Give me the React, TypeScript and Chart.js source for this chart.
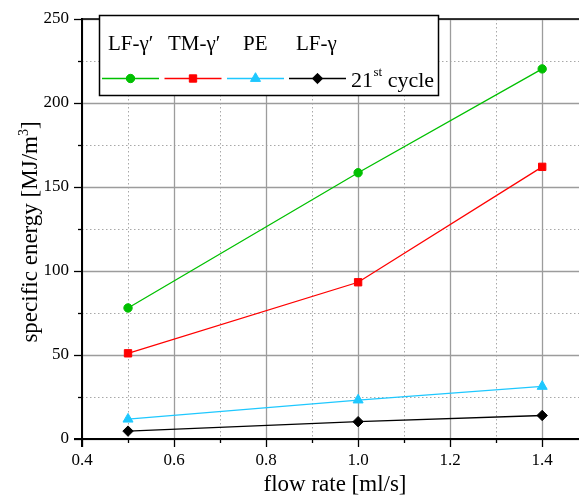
import { useEffect, useRef } from 'react';
import { Chart, registerables } from 'chart.js';

Chart.register(...registerables);

const flowRates = [0.5, 1.0, 1.4];
const lfGammaPrime = [78, 158.5, 220.3];
const tmGammaPrime = [51, 93.3, 162];
const pe = [11.8, 23.2, 31.3];
const lfGamma21 = [4.7, 10.3, 14];

const seriesNames = ['LF-γ′', 'TM-γ′', 'PE', 'LF-γ'];
const seriesColors = ['#00c000', '#ff0000', '#1ec8ff', '#000000'];
const seriesShapes = ['circle', 'rect', 'triangle', 'rectRot'];
const seriesRadii = [4.2, 5.2, 5.8, 5.2];
const legendSuffix = '21';
const legendSup = 'st';
const legendTail = ' cycle';
const xTitle = 'flow rate [ml/s]';
const yTitle = 'specific energy [MJ/m';
const yTitleSup = '3';
const yTitleEnd = ']';

const xMajor = [0.4, 0.6, 0.8, 1.0, 1.2, 1.4];
const xMinor = [0.5, 0.7, 0.9, 1.1, 1.3];
const yMajor = [0, 50, 100, 150, 200, 250];
const yMinor = [25, 75, 125, 175, 225];

const FONT = '"Liberation Serif", "DejaVu Serif", serif';

function drawMarker(ctx: CanvasRenderingContext2D, shape: string, r: number, x: number, y: number, color: string) {
  ctx.save();
  ctx.fillStyle = color;
  ctx.strokeStyle = color;
  ctx.lineWidth = 1;
  ctx.beginPath();
  if (shape === 'circle') {
    ctx.arc(x, y, r, 0, Math.PI * 2);
  } else if (shape === 'rect') {
    const s = r * Math.SQRT1_2;
    ctx.rect(x - s, y - s, 2 * s, 2 * s);
  } else if (shape === 'triangle') {
    ctx.moveTo(x, y - r);
    ctx.lineTo(x + Math.sin((2 * Math.PI) / 3) * r, y - Math.cos((2 * Math.PI) / 3) * r);
    ctx.lineTo(x + Math.sin((4 * Math.PI) / 3) * r, y - Math.cos((4 * Math.PI) / 3) * r);
    ctx.closePath();
  } else {
    ctx.moveTo(x, y - r);
    ctx.lineTo(x + r, y);
    ctx.lineTo(x, y + r);
    ctx.lineTo(x - r, y);
    ctx.closePath();
  }
  ctx.fill();
  ctx.stroke();
  ctx.restore();
}

const gridPlugin = {
  id: 'customGrid',
  beforeDatasetsDraw(chart: any) {
    const { ctx, chartArea: a, scales } = chart;
    const xs = scales.x, ys = scales.y;
    ctx.save();
    ctx.lineWidth = 1;
    ctx.strokeStyle = '#a8a8a8';
    ctx.setLineDash([1.5, 2.5]);
    xMinor.forEach((v) => {
      const px = Math.round(xs.getPixelForValue(v)) + 0.5;
      ctx.beginPath(); ctx.moveTo(px, a.top); ctx.lineTo(px, a.bottom); ctx.stroke();
    });
    yMinor.forEach((v) => {
      const py = Math.round(ys.getPixelForValue(v)) + 0.5;
      ctx.beginPath(); ctx.moveTo(a.left, py); ctx.lineTo(a.right, py); ctx.stroke();
    });
    ctx.setLineDash([]);
    ctx.lineWidth = 1.3;
    ctx.strokeStyle = '#9c9c9c';
    xMajor.forEach((v) => {
      const px = Math.round(xs.getPixelForValue(v)) + 0.5;
      ctx.beginPath(); ctx.moveTo(px, a.top); ctx.lineTo(px, a.bottom); ctx.stroke();
    });
    yMajor.forEach((v) => {
      const py = Math.round(ys.getPixelForValue(v)) + 0.5;
      ctx.beginPath(); ctx.moveTo(a.left, py); ctx.lineTo(a.right, py); ctx.stroke();
    });
    ctx.restore();
  },
  afterDatasetsDraw(chart: any) {
    const { ctx, chartArea: a, scales } = chart;
    const xs = scales.x, ys = scales.y;
    ctx.save();
    ctx.strokeStyle = '#000';
    ctx.lineWidth = 2;
    ctx.beginPath(); ctx.moveTo(a.left, a.top - 1); ctx.lineTo(a.left, a.bottom + 8); ctx.stroke();
    ctx.beginPath(); ctx.moveTo(a.left - 8, a.bottom); ctx.lineTo(a.right, a.bottom); ctx.stroke();
    ctx.lineWidth = 1.6;
    ctx.beginPath(); ctx.moveTo(a.left, a.top); ctx.lineTo(a.right, a.top); ctx.stroke();
    ctx.lineWidth = 1.3;
    xMajor.forEach((v) => {
      const px = Math.round(xs.getPixelForValue(v)) + 0.5;
      ctx.beginPath(); ctx.moveTo(px, a.bottom); ctx.lineTo(px, a.bottom + 8); ctx.stroke();
    });
    xMinor.forEach((v) => {
      const px = Math.round(xs.getPixelForValue(v)) + 0.5;
      ctx.beginPath(); ctx.moveTo(px, a.bottom); ctx.lineTo(px, a.bottom + 4); ctx.stroke();
    });
    yMajor.forEach((v) => {
      const py = Math.round(ys.getPixelForValue(v)) + 0.5;
      ctx.beginPath(); ctx.moveTo(a.left, py); ctx.lineTo(a.left - 8, py); ctx.stroke();
    });
    yMinor.forEach((v) => {
      const py = Math.round(ys.getPixelForValue(v)) + 0.5;
      ctx.beginPath(); ctx.moveTo(a.left, py); ctx.lineTo(a.left - 4, py); ctx.stroke();
    });

    // legend box
    const bx = 99.5, by = 15.5, bw = 339, bh = 80;
    ctx.fillStyle = '#fff';
    ctx.fillRect(bx, by, bw, bh);
    ctx.lineWidth = 1.5;
    ctx.strokeStyle = '#000';
    ctx.strokeRect(bx, by, bw, bh);

    ctx.fillStyle = '#000';
    ctx.textBaseline = 'alphabetic';
    ctx.textAlign = 'left';
    ctx.font = `21px ${FONT}`;
    const textX = [108, 168, 243, 296];
    seriesNames.forEach((n, i) => ctx.fillText(n, textX[i], 50));

    const lineStarts = [102, 164.5, 227, 289];
    const lineW = 57;
    const ly = 78.5;
    seriesNames.forEach((_, i) => {
      ctx.strokeStyle = seriesColors[i];
      ctx.lineWidth = 1.3;
      ctx.beginPath();
      ctx.moveTo(lineStarts[i], ly);
      ctx.lineTo(lineStarts[i] + lineW, ly);
      ctx.stroke();
    });
    ctx.restore();
    seriesNames.forEach((_, i) => {
      drawMarker(ctx, seriesShapes[i], seriesRadii[i], lineStarts[i] + lineW / 2, ly, seriesColors[i]);
    });
    ctx.save();
    ctx.fillStyle = '#000';
    ctx.textAlign = 'left';
    ctx.textBaseline = 'alphabetic';
    ctx.font = `22px ${FONT}`;
    ctx.fillText(legendSuffix, 351, 87);
    const w1 = ctx.measureText(legendSuffix).width;
    ctx.font = `13px ${FONT}`;
    ctx.fillText(legendSup, 351 + w1 + 0.5, 76);
    const w2 = ctx.measureText(legendSup).width;
    ctx.font = `22px ${FONT}`;
    ctx.fillText(legendTail, 351 + w1 + w2 + 0.5, 87);
    ctx.restore();
  },
  afterDraw(chart: any) {
    const { ctx } = chart;
    ctx.save();
    ctx.fillStyle = '#000';
    ctx.textBaseline = 'alphabetic';
    // x title
    ctx.font = `23px ${FONT}`;
    ctx.textAlign = 'center';
    ctx.fillText(xTitle, 335, 491);
    // y title (rotated) with superscript
    ctx.translate(37, 232);
    ctx.rotate(-Math.PI / 2);
    ctx.font = `23px ${FONT}`;
    const wMain = ctx.measureText(yTitle).width;
    const wEnd = ctx.measureText(yTitleEnd).width;
    ctx.font = `14px ${FONT}`;
    const wSup = ctx.measureText(yTitleSup).width;
    const total = wMain + wSup + wEnd;
    let x0 = -total / 2;
    ctx.textAlign = 'left';
    ctx.font = `23px ${FONT}`;
    ctx.fillText(yTitle, x0, 0);
    x0 += wMain;
    ctx.font = `14px ${FONT}`;
    ctx.fillText(yTitleSup, x0, -9);
    x0 += wSup;
    ctx.font = `23px ${FONT}`;
    ctx.fillText(yTitleEnd, x0, 0);
    ctx.restore();
  },
};

export default function App() {
  const ref = useRef<HTMLCanvasElement | null>(null);
  useEffect(() => {
    document.body.style.margin = '0';
    const mk = (vals: number[]) => flowRates.map((x, i) => ({ x, y: vals[i] }));
    const all = [lfGammaPrime, tmGammaPrime, pe, lfGamma21];
    const chart = new Chart(ref.current as HTMLCanvasElement, {
      type: 'line',
      data: {
        datasets: all.map((vals, i) => ({
          label: seriesNames[i],
          data: mk(vals),
          borderColor: seriesColors[i],
          backgroundColor: seriesColors[i],
          borderWidth: 1.3,
          pointStyle: seriesShapes[i] as any,
          pointRadius: seriesRadii[i],
          pointBorderWidth: 1,
          tension: 0,
          fill: false,
        })),
      },
      options: {
        animation: false,
        responsive: false,
        maintainAspectRatio: false,
        layout: { autoPadding: false, padding: { top: 19, right: 0, left: 0, bottom: 0 } },
        plugins: { legend: { display: false }, tooltip: { enabled: false } },
        scales: {
          x: {
            type: 'linear',
            min: 0.4,
            max: 1.48,
            grid: { display: false, drawTicks: false },
            border: { display: false },
            afterBuildTicks: (s: any) => { s.ticks = xMajor.map((v) => ({ value: v })); },
            afterFit: (s: any) => { s.height = 58; s.paddingLeft = 0; s.paddingRight = 0; },
            ticks: {
              padding: 11,
              color: '#000',
              font: { family: FONT, size: 17 },
              callback: (v: any) => Number(v).toFixed(1),
              maxRotation: 0,
            },
            title: { display: false },
          },
          y: {
            type: 'linear',
            min: 0,
            max: 250,
            grid: { display: false, drawTicks: false },
            border: { display: false },
            afterBuildTicks: (s: any) => { s.ticks = yMajor.map((v) => ({ value: v })); },
            afterFit: (s: any) => { s.width = 82; s.paddingTop = 0; s.paddingBottom = 0; },
            ticks: {
              padding: 13,
              color: '#000',
              font: { family: FONT, size: 17 },
            },
            title: { display: false },
          },
        },
      },
      plugins: [gridPlugin],
    });
    return () => chart.destroy();
  }, []);
  return (
    <div style={{ width: 579, height: 497 }}>
      <canvas ref={ref} width={579} height={497} style={{ display: 'block' }} />
    </div>
  );
}
